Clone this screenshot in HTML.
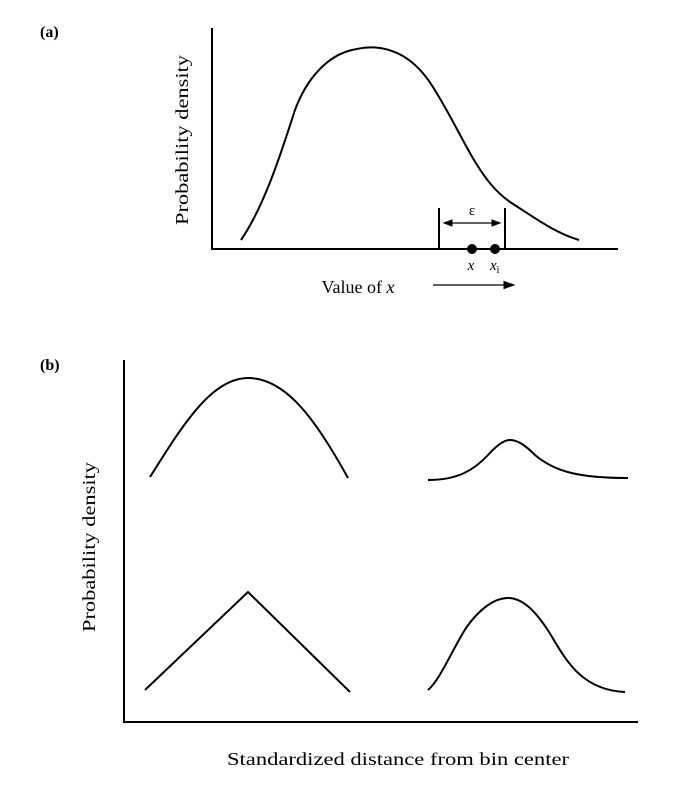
<!DOCTYPE html>
<html><head><style>body{margin:0;background:#fff}svg{display:block}</style></head><body>
<svg width="676" height="788" viewBox="0 0 676 788" xmlns="http://www.w3.org/2000/svg" font-family="Liberation Serif, serif" fill="none" stroke="#000" stroke-width="2">
<text x="40" y="37" font-size="16" font-weight="bold" fill="#000" stroke="none">(a)</text>
<path d="M212 28 V249 H618"/>
<path d="M241 240 C265 205 282 150 295 110 C308 75 330 55 352 50 C365 47 372 47 380 48 C405 52 422 68 436 92 C452 118 462 140 474 160 C486 180 496 192 510 202 C535 218 555 233 579 240"/>
<path d="M439 208 V249 M505 208 V249" />
<path d="M446 223 H498" stroke-width="1.2"/>
<path d="M444 223 l8 -3 v6z M500 223 l-8 -3 v6z" fill="#000" stroke-width="1"/>
<circle cx="472" cy="249" r="5" fill="#000" stroke="none"/>
<circle cx="495" cy="249" r="5" fill="#000" stroke="none"/>
<text x="472" y="215" font-size="15" text-anchor="middle" fill="#000" stroke="none">ε</text>
<text x="471" y="270" font-size="15" font-style="italic" text-anchor="middle" fill="#000" stroke="none">x</text>
<text x="490" y="270" font-size="15" font-style="italic" fill="#000" stroke="none">x<tspan font-size="10" dy="3" font-style="normal">i</tspan></text>
<text transform="translate(188,140) rotate(-90)" font-size="18" text-anchor="middle" fill="#000" stroke="none" textLength="170" lengthAdjust="spacingAndGlyphs">Probability density</text>
<text x="358" y="293" font-size="18" text-anchor="middle" fill="#000" stroke="none">Value of <tspan font-style="italic">x</tspan></text>
<path d="M433 285 H505" stroke-width="1.2"/>
<path d="M514 285 l-10 -3.5 v7z" fill="#000" stroke-width="1"/>

<text x="40" y="370" font-size="16" font-weight="bold" fill="#000" stroke="none">(b)</text>
<path d="M124 360 V722 H638"/>
<path d="M150 477 C180 430 210 378 248 378 C286 378 316 420 348 478"/>
<path d="M428 480 C458 480 474 470 488 455 C498 444 505 440 510 440 C518 440 526 446 535 455 C555 472 580 478 628 478"/>
<path d="M145 690 L248 592 L350 692"/>
<path d="M428 690 C440 680 452 650 466 628 C480 608 495 598 508 598 C522 598 535 610 549 632 C565 658 580 690 625 692"/>
<text transform="translate(95,547) rotate(-90)" font-size="18" text-anchor="middle" fill="#000" stroke="none" textLength="170" lengthAdjust="spacingAndGlyphs">Probability density</text>
<text x="398" y="765" font-size="18" text-anchor="middle" fill="#000" stroke="none" textLength="342" lengthAdjust="spacingAndGlyphs">Standardized distance from bin center</text>
</svg>
</body></html>
